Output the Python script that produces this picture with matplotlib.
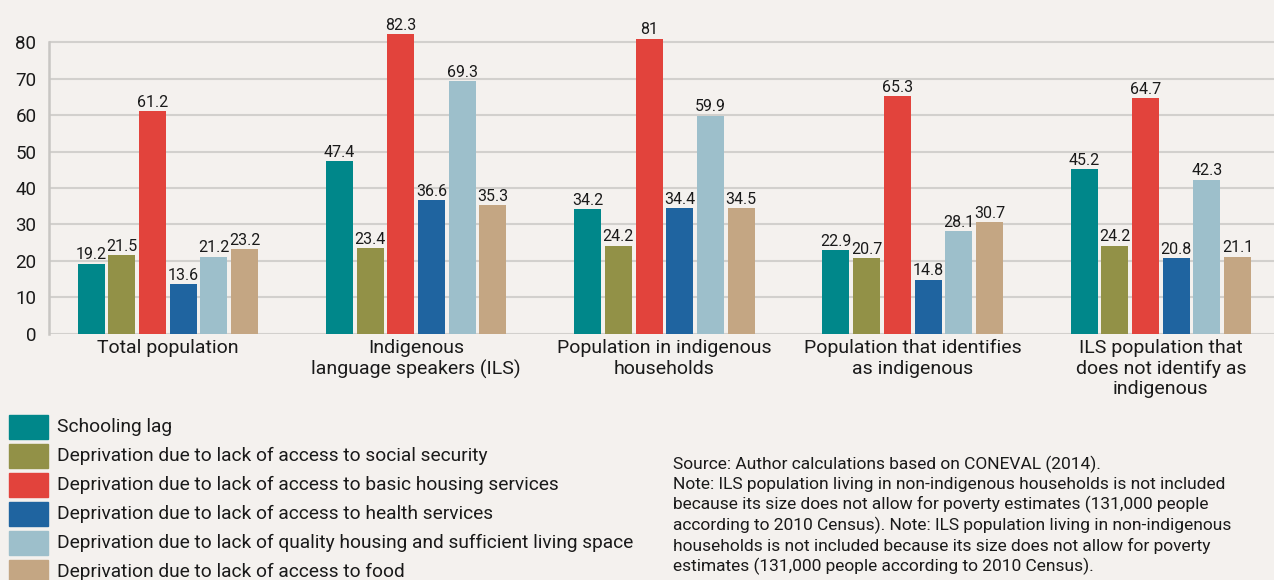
import matplotlib.pyplot as plt
import numpy as np
from matplotlib.patches import Rectangle

plt.rcParams["font.family"] = ["Roboto", "DejaVu Sans"]

BG = "#f4f1ee"
GRID = "#d2d0cd"
INK = "#1a1a1a"

categories = ["Total population",
              "Indigenous\nlanguage speakers (ILS)",
              "Population in indigenous\nhouseholds",
              "Population that identifies\nas indigenous",
              "ILS population that\ndoes not identify as\nindigenous"]

series_names = ["Schooling lag",
                "Deprivation due to lack of access to social security",
                "Deprivation due to lack of access to basic housing services",
                "Deprivation due to lack of access to health services",
                "Deprivation due to lack of quality housing and sufficient living space",
                "Deprivation due to lack of access to food"]

schooling = [19.2, 47.4, 34.2, 22.9, 45.2]
social_security = [21.5, 23.4, 24.2, 20.7, 24.2]
housing_services = [61.2, 82.3, 81, 65.3, 64.7]
health = [13.6, 36.6, 34.4, 14.8, 20.8]
quality_housing = [21.2, 69.3, 59.9, 28.1, 42.3]
food = [23.2, 35.3, 34.5, 30.7, 21.1]
series = [schooling, social_security, housing_services, health, quality_housing, food]

colors = ["#00878a", "#929147", "#e2433c", "#1f64a0", "#9dbfcb", "#c4a683"]

source_text = ("Source: Author calculations based on CONEVAL (2014).\n"
               "Note: ILS population living in non-indigenous households is not included\n"
               "because its size does not allow for poverty estimates (131,000 people\n"
               "according to 2010 Census). Note: ILS population living in non-indigenous\n"
               "households is not included because its size does not allow for poverty\n"
               "estimates (131,000 people according to 2010 Census).")

W, H = 1274, 580
fig = plt.figure(figsize=(W / 100, H / 100), dpi=100)
fig.patch.set_facecolor(BG)

# plot area deliberately runs past the right edge, like the cropped original
ax = fig.add_axes([49 / W, 0.4247, 0.9743, 0.5272])
ax.set_facecolor(BG)

x = np.arange(len(categories))
pitch, width = 0.1237, 0.1088
for k, (vals, c) in enumerate(zip(series, colors)):
    xs = x + (k - 2.5) * pitch
    ax.bar(xs, vals, width=width, color=c, zorder=3)
    for xi, v in zip(xs, vals):
        ax.annotate(f"{v:g}", (xi, v), xytext=(0, 1), textcoords="offset points",
                    ha="center", va="bottom", fontsize=11.5, color=INK, zorder=4)

ax.set_xlim(-0.479, 4.521)
ax.set_ylim(0, 84)
ax.set_yticks(np.arange(0, 81, 10))
ax.yaxis.grid(True, color=GRID, lw=1.5, zorder=0)
ax.set_axisbelow(True)
for s in ("top", "right", "bottom"):
    ax.spines[s].set_visible(False)
ax.spines["left"].set_color("#c8c6c3")
ax.spines["left"].set_linewidth(1.8)
ax.spines["left"].set_bounds(0, 80)
ax.tick_params(axis="y", length=0, pad=9, labelsize=13.5, labelcolor=INK)
ax.set_xticks(x)
ax.set_xticklabels(categories, fontsize=14, color=INK, linespacing=1.17)
ax.tick_params(axis="x", length=0, pad=4)

# legend drawn by hand in figure pixels
for i, (name, c) in enumerate(zip(series_names, colors)):
    yc = 427 + 29 * i
    fig.patches.append(Rectangle((9 / W, 1 - (yc + 12) / H), 39 / W, 24 / H,
                                 transform=fig.transFigure, color=c))
    fig.text(57 / W, 1 - yc / H, name, fontsize=13.8, color=INK, va="center")

fig.text(673 / W, 1 - 456 / H, source_text, fontsize=12.5, color=INK,
         va="top", linespacing=1.29)

fig.savefig("out.png", dpi=100, facecolor=BG)
